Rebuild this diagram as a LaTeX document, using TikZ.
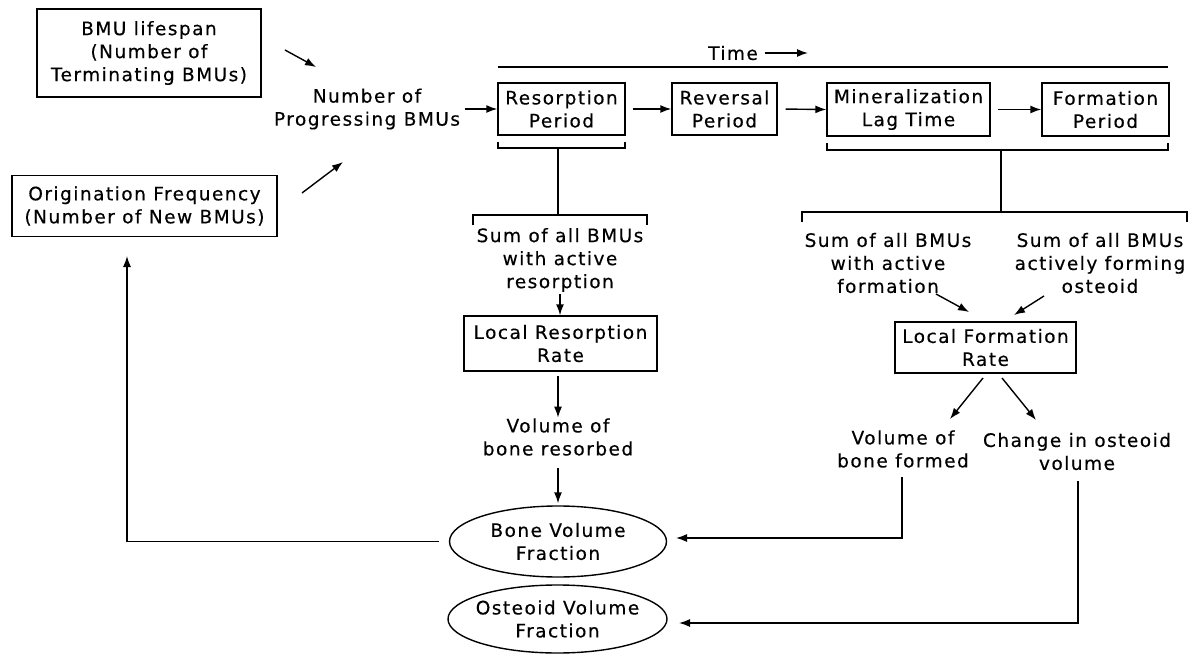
\documentclass[tikz,border=0pt]{standalone}
\usepackage{fontspec}
\setmainfont{DejaVu Sans}[LetterSpace=8,FakeBold=0.4]
\usetikzlibrary{arrows.meta,shapes.geometric}
\begin{document}
\begin{tikzpicture}[x=1pt,y=-1pt,
  font=\fontsize{18.5}{23}\selectfont,
  line width=1.4pt,
  box/.style={draw, rectangle, align=center, inner sep=0pt},
  lbl/.style={align=center, inner sep=0pt},
  oval/.style={draw, ellipse, align=center, inner sep=-10pt},
  arr/.style={-{Latex[length=11pt,width=8pt]}}]
\useasboundingbox (0,0) rectangle (1196,655);
% left boxes
\node[box, minimum width=224pt, minimum height=88pt] (life) at (149,53) {BMU lifespan\\(Number of\\Terminating BMUs)};
\node[box, minimum width=265pt, minimum height=61pt] (orig) at (144.5,206) {Origination Frequency\\(Number of New BMUs)};
\node[lbl] (nprog) at (367,109) {Number of\\Progressing BMUs};
\coordinate (l1s) at (285,50); \coordinate (l1e) at (316,67);
\coordinate (o1s) at (302,193); \coordinate (o1e) at (343,162);
\draw[arr] (l1s) -- (l1e);
\draw[arr] (o1s) -- (o1e);
% time row
\node[lbl] (time) at (733,53) {Time};
\coordinate (timeend) at (808,53);
\draw[arr, shorten <=6pt] (time.east) -- (timeend);
\coordinate (tl1) at (498,67);
\coordinate (tl2) at (1168,67);
\draw (tl1) -- (tl2);
\node[box, minimum width=127pt, minimum height=52pt] (res) at (561.5,109) {Resorption\\Period};
\node[box, minimum width=105pt, minimum height=52pt] (rev) at (724.5,109) {Reversal\\Period};
\node[box, minimum width=163pt, minimum height=53pt] (min) at (908.5,109.5) {Mineralization\\Lag Time};
\node[box, minimum width=127pt, minimum height=53pt] (form) at (1105.5,109.5) {Formation\\Period};
\draw[arr, shorten <=4pt] (nprog.east) -- (res.west);
\draw[arr, shorten <=7pt] (res.east) -- (rev.west);
\draw[arr, shorten <=8pt] (rev.east) -- (min.west);
\draw[arr, shorten <=7pt] (min.east) -- (form.west);
% resorption branch
\draw (498,142) -- (498,148) -- (625,148) -- (625,142);
\draw (558,148) -- (558,215);
\draw (473,225) -- (473,215) -- (647,215) -- (647,225);
\node[lbl] (sumres) at (560,260) {Sum of all BMUs\\with active\\resorption};
\node[box, minimum width=193pt, minimum height=55pt] (lrr) at (560.5,343.5) {Local Resorption\\Rate};
\node[lbl] (volres) at (558,437) {Volume of\\bone resorbed};
\coordinate (r1s) at (560,294);
\coordinate (r2s) at (558,376);
\draw[arr] (r1s) -- (r1s |- lrr.north);
\draw[arr] (r2s) -- (r2s |- volres.north);
\node[oval, minimum width=217pt, minimum height=71pt] (bvf) at (558,541.5) {Bone Volume\\Fraction};
\node[oval, minimum width=219pt, minimum height=68pt] (ovf) at (557.5,619) {Osteoid Volume\\Fraction};
\draw[arr, shorten <=12pt, shorten >=2pt] (volres.south) -- (bvf.north);
% feedback
\coordinate (fbtip) at (127,256);
\draw[arr, shorten <=10pt] (bvf.west) -| (fbtip);
% formation branch
\draw (827,143) -- (827,150) -- (1168,150) -- (1168,143);
\draw (1001,150) -- (1001,212);
\draw (802,222) -- (802,212) -- (1187,212) -- (1187,222);
\node[lbl] (sumform) at (888,263) {Sum of all BMUs\\with active\\formation};
\node[lbl] (sumost) at (1100,263) {Sum of all BMUs\\actively forming\\osteoid};
\node[box, minimum width=181pt, minimum height=51pt] (lfr) at (985.5,347.5) {Local Formation\\Rate};
\coordinate (a1s) at (936,294); \coordinate (a1e) at (969,312);
\coordinate (a2s) at (1044,296); \coordinate (a2e) at (1014,315);
\draw[arr] (a1s) -- (a1e);
\draw[arr] (a2s) -- (a2e);
\node[lbl] (volform) at (903,449) {Volume of\\bone formed};
\node[lbl] (chost) at (1077,451.5) {Change in osteoid\\volume};
\coordinate (b1s) at (983,378); \coordinate (b1e) at (950,419);
\coordinate (b2s) at (1002,378); \coordinate (b2e) at (1036,420);
\draw[arr] (b1s) -- (b1e);
\draw[arr] (b2s) -- (b2e);
\coordinate (vfturn) at (902,477);
\coordinate (vfcorner) at (902,538);
\coordinate (vftip) at (676,538);
\draw[arr] (vfturn) -- (vfcorner) -- (vftip);
\coordinate (coturn) at (1078,481);
\coordinate (cocorner) at (1078,623);
\coordinate (cotip) at (679,623);
\draw[arr] (coturn) -- (cocorner) -- (cotip);
\end{tikzpicture}
\end{document}
